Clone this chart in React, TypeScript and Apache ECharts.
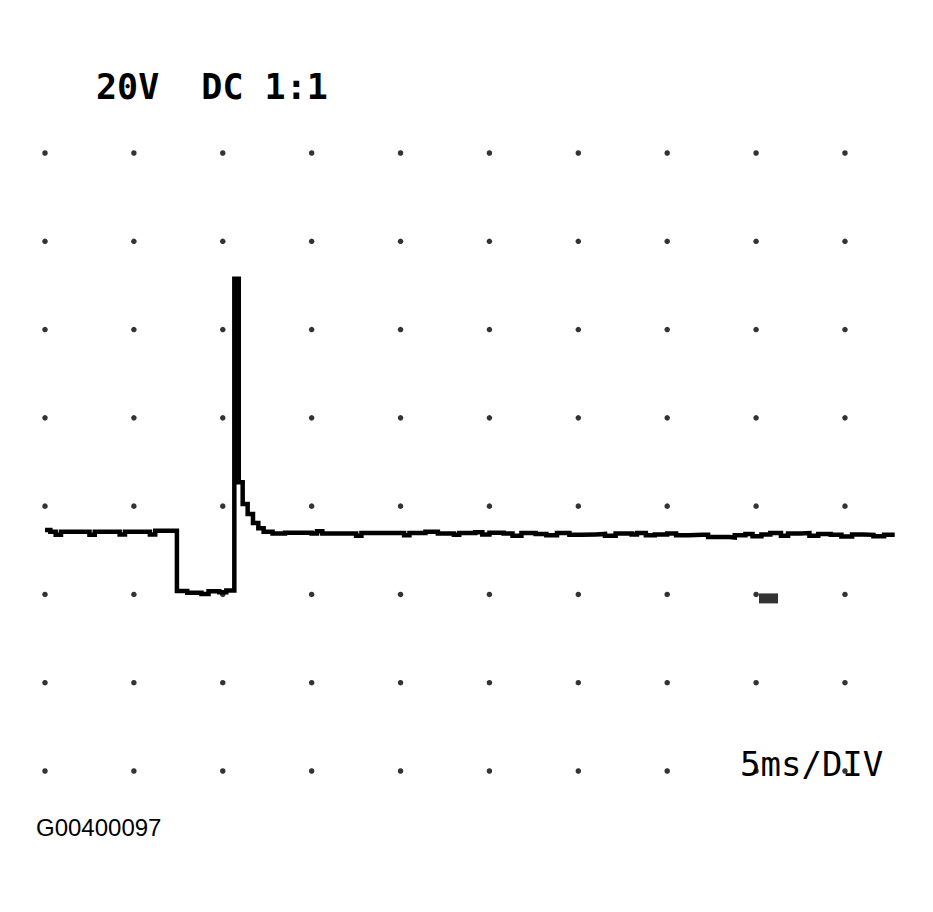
import React, { useEffect, useRef } from "react";
import * as echarts from "echarts";

// Grid positions (ms per division = 5, volts per division = 20)
const xTicks = [0, 5, 10, 15, 20, 25, 30, 35, 40, 45];
const yTicks = [100, 80, 60, 40, 20, 0, -20, -40];

// Trace samples: time in ms, voltage in V (sample-and-hold)
const times = [
  0, 0.3, 0.6, 0.9, 1.2, 2.2, 2.5, 2.8, 3.9, 4.2, 4.5, 5.6, 5.9, 6.2, 7.42,
  8.0, 8.8, 9.2, 9.8, 10.2,
  10.65, 10.9, 11.12, 11.4, 11.7, 12.0, 12.3, 12.8,
  13.5, 15, 15.3, 15.6, 17, 17.5, 17.8, 19, 20.2, 20.5, 21.4, 22.1, 23, 23.3, 24.2, 24.6,
  25, 25.8, 26.3, 26.8, 27.6, 28.2, 28.8, 29.5, 30.2, 31.0, 31.5, 32.1, 33.0, 33.3, 33.8,
  34.3, 35.0, 35.5, 36.2, 37.0, 37.3, 38.5, 38.8, 39.4, 39.8, 40.3, 40.8, 41.4, 41.8, 42.5,
  43, 43.5, 44.2, 44.8, 45.4, 46.0, 46.6, 47.2, 47.8,
];
const volts = [
  14.6, 14.2, 13.5, 14.2, 14.2, 14.2, 13.5, 14.2, 14.2, 13.6, 14.2, 14.2, 13.6, 14.4,
  0.8, 0.4, 0.1, 0.7, 0.5, 0.9,
  71.5, 25.4, 20.5, 18.2, 16.2, 15.0, 14.2, 13.8,
  14.0, 13.8, 14.3, 13.8, 13.8, 13.3, 13.9, 13.9, 13.4, 13.9, 14.2, 13.8, 13.5, 13.9, 14.1, 13.6,
  14.0, 13.8, 13.3, 13.9, 13.7, 13.4, 13.9, 13.5, 13.6, 13.7, 13.3, 13.8, 13.6, 13.9, 13.4,
  13.6, 13.8, 13.4, 13.5, 13.5, 13.0, 12.9, 13.4, 13.7, 13.2, 13.6, 13.9, 13.3, 13.8, 13.9,
  13.3, 13.7, 13.5, 13.1, 13.6, 13.5, 13.2, 13.5, 13.5,
];

// Trigger marker position (ms, V)
const markerPoint = [40.7, -0.9];

const topLabel = "20V  DC 1:1";
const timeLabel = "5ms/DIV";
const figureId = "G00400097";

export default function App() {
  const ref = useRef<HTMLDivElement>(null);
  useEffect(() => {
    if (!ref.current) return;
    const chart = echarts.init(ref.current, null, { renderer: "svg" });
    const dots: number[][] = [];
    for (const x of xTicks) for (const y of yTicks) dots.push([x, y]);
    const trace = times.map((t, i) => [t, volts[i]]);
    chart.setOption({
      animation: false,
      backgroundColor: "#ffffff",
      grid: { left: 45, top: 153, width: 853.3, height: 618 },
      xAxis: { type: "value", min: 0, max: 48, interval: 5, show: false },
      yAxis: { type: "value", min: -40, max: 100, interval: 20, show: false },
      graphic: [
        {
          type: "text",
          left: 96,
          top: 69,
          style: {
            text: topLabel,
            font: "bold 35px 'DejaVu Sans Mono'",
            fill: "#000",
          },
        },
        {
          type: "text",
          left: 740,
          top: 747,
          style: {
            text: timeLabel,
            font: "34px 'DejaVu Sans Mono'",
            fill: "#000",
          },
        },
        {
          type: "text",
          left: 36,
          top: 815,
          style: {
            text: figureId,
            font: "24px 'Liberation Sans', Arial, sans-serif",
            fill: "#000",
          },
        },
      ],
      series: [
        {
          type: "scatter",
          data: dots,
          symbol: "circle",
          symbolSize: 5.5,
          itemStyle: { color: "#000" },
          silent: true,
        },
        {
          type: "line",
          data: trace,
          step: "end",
          symbol: "none",
          clip: false,
          lineStyle: { color: "#000", width: 4.5, join: "miter" },
          silent: true,
        },
        {
          type: "scatter",
          data: [markerPoint],
          symbol: "rect",
          symbolSize: [19, 10],
          itemStyle: { color: "#000" },
          silent: true,
        },
      ],
    });
    return () => chart.dispose();
  }, []);
  return (
    <div
      ref={ref}
      style={{ position: "absolute", left: 0, top: 0, width: 933, height: 912 }}
    />
  );
}
